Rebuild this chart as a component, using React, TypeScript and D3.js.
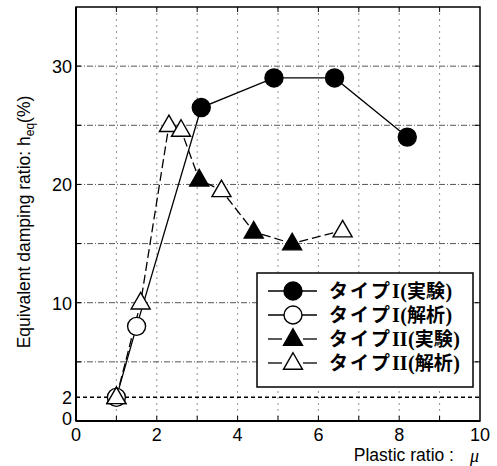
import React from "react";
import * as d3 from "d3";

// Type I: experiment (filled circles) and analysis (open circles)
const typeIExpMu = [3.1, 4.9, 6.4, 8.2];
const typeIExpH = [26.5, 29, 29, 24];
const typeIAnaMu = [1.0, 1.5];
const typeIAnaH = [2, 8];

// Type II: experiment (filled triangles) and analysis (open triangles)
const typeIIExpMu = [3.05, 4.4, 5.35];
const typeIIExpH = [20.4, 16, 15];
const typeIIAnaMu = [1.0, 1.6, 2.3, 2.6, 3.6, 6.6];
const typeIIAnaH = [2, 10, 25, 24.6, 19.5, 16.1];

const xTickLabels = [0, 2, 4, 6, 8, 10];
const yTickLabels = [0, 2, 10, 20, 30];
const yGrid = [5, 10, 15, 20, 25, 30];
const xGrid = [1, 2, 3, 4, 5, 6, 7, 8, 9];
const baseDamping = 2;

const legendItems = [
  { roman: "I", tail: "実験", marker: "circle", filled: true, dashed: false },
  { roman: "I", tail: "解析", marker: "circle", filled: false, dashed: false },
  { roman: "II", tail: "実験", marker: "triangle", filled: true, dashed: true },
  { roman: "II", tail: "解析", marker: "triangle", filled: false, dashed: true },
];

const W = 497;
const H = 466;
const L = 76;
const R = 480;
const T = 7;
const B = 421;

const x = d3.scaleLinear().domain([0, 10]).range([L, R]);
const y = d3.scaleLinear().domain([0, 35]).range([B, T]);

type P = [number, number];
const zip = (a: number[], b: number[]): P[] => a.map((v, i) => [v, b[i]]);

const typeIAll = [...zip(typeIAnaMu, typeIAnaH), ...zip(typeIExpMu, typeIExpH)].sort((a, b) => a[0] - b[0]);
const typeIIAll = [...zip(typeIIAnaMu, typeIIAnaH), ...zip(typeIIExpMu, typeIIExpH)].sort((a, b) => a[0] - b[0]);

const line = d3.line<P>().x((d) => x(d[0])).y((d) => y(d[1]));

const triPath = (cx: number, cy: number, s: number) => {
  const h = s * 0.87;
  return `M${cx},${cy - h * 0.62}L${cx + s / 2},${cy + h * 0.38}L${cx - s / 2},${cy + h * 0.38}Z`;
};

function Marker({ kind, filled, cx, cy }: { kind: string; filled: boolean; cx: number; cy: number }) {
  const fill = filled ? "#000" : "#fff";
  if (kind === "circle") {
    return <circle cx={cx} cy={cy} r={9} fill={fill} stroke="#000" strokeWidth={1.4} />;
  }
  return <path d={triPath(cx, cy, 19)} fill={fill} stroke="#000" strokeWidth={1.4} />;
}

export default function App() {
  const jp = "'Noto Sans CJK JP', sans-serif";
  const sans = "'Liberation Sans', Arial, sans-serif";
  const serif = "'Liberation Serif', 'Times New Roman', serif";
  return (
    <svg width={W} height={H} style={{ position: "fixed", left: 0, top: 0, background: "#fff" }}>
      {/* grid */}
      {xGrid.map((v) => (
        <line key={"xg" + v} x1={x(v)} x2={x(v)} y1={T} y2={B} stroke="#777" strokeWidth={0.8} strokeDasharray="2,4" />
      ))}
      {yGrid.map((v) => (
        <line key={"yg" + v} x1={L} x2={R} y1={y(v)} y2={y(v)} stroke="#444" strokeWidth={0.9} strokeDasharray="6,2,1,2" />
      ))}
      {/* reference damping */}
      <line x1={L} x2={R} y1={y(baseDamping)} y2={y(baseDamping)} stroke="#000" strokeWidth={1.5} strokeDasharray="4,3" />

      {/* tick marks */}
      {xGrid.map((v) => (
        <g key={"xt" + v}>
          <line x1={x(v)} x2={x(v)} y1={T} y2={T + 5} stroke="#000" strokeWidth={1} />
          <line x1={x(v)} x2={x(v)} y1={B} y2={B - 5} stroke="#000" strokeWidth={1} />
        </g>
      ))}
      {yGrid.map((v) => (
        <g key={"yt" + v}>
          <line x1={R} x2={R - 5} y1={y(v)} y2={y(v)} stroke="#000" strokeWidth={1} />
          <line x1={L} x2={L + 5} y1={y(v)} y2={y(v)} stroke="#000" strokeWidth={1} />
        </g>
      ))}

      {/* frame */}
      <rect x={L} y={T} width={R - L} height={B - T} fill="none" stroke="#000" strokeWidth={1.5} />
      <line x1={L} x2={L} y1={T} y2={B} stroke="#000" strokeWidth={2} />
      <line x1={L} x2={R} y1={B} y2={B} stroke="#000" strokeWidth={2} />

      {/* series lines */}
      <path d={line(typeIAll) || ""} fill="none" stroke="#000" strokeWidth={1.3} />
      <path d={line(typeIIAll) || ""} fill="none" stroke="#000" strokeWidth={1.3} strokeDasharray="9,4" />

      {/* markers */}
      {zip(typeIIAnaMu, typeIIAnaH).map((p, i) => (
        <Marker key={"ta" + i} kind="triangle" filled={false} cx={x(p[0])} cy={y(p[1])} />
      ))}
      {zip(typeIIExpMu, typeIIExpH).map((p, i) => (
        <Marker key={"te" + i} kind="triangle" filled cx={x(p[0])} cy={y(p[1])} />
      ))}
      {zip(typeIAnaMu, typeIAnaH).map((p, i) => (
        <Marker key={"ca" + i} kind="circle" filled={false} cx={x(p[0])} cy={y(p[1])} />
      ))}
      {zip(typeIExpMu, typeIExpH).map((p, i) => (
        <Marker key={"ce" + i} kind="circle" filled cx={x(p[0])} cy={y(p[1])} />
      ))}
      {/* open triangle at mu=1 drawn over the open circle */}
      <Marker kind="triangle" filled={false} cx={x(typeIIAnaMu[0])} cy={y(typeIIAnaH[0])} />

      {/* tick labels */}
      {xTickLabels.map((v) => (
        <text key={"xl" + v} x={x(v)} y={B + 20} textAnchor="middle" fontFamily={sans} fontSize={18}>
          {v}
        </text>
      ))}
      {yTickLabels.map((v) => (
        <text key={"yl" + v} x={L - 4} y={y(v) + (v === 0 ? 4 : 7)} textAnchor="end" fontFamily={sans} fontSize={18}>
          {v}
        </text>
      ))}

      {/* axis titles */}
      <text x={454} y={461} textAnchor="end" fontFamily={sans} fontSize={17.5}>
        Plastic ratio :
      </text>
      <text x={470} y={462} fontFamily={serif} fontStyle="italic" fontSize={18}>μ</text>
      <text transform={`translate(30,${222}) rotate(-90)`} textAnchor="middle" fontFamily={sans} fontSize={17.5}>
        Equivalent damping ratio: h
        <tspan fontSize={12} dy={4}>eq</tspan>
        <tspan dy={-4}>(%)</tspan>
      </text>

      {/* legend */}
      <rect x={257} y={273} width={216} height={114} fill="#fff" stroke="#000" strokeWidth={1.5} />
      {legendItems.map((it, i) => {
        const cy = 291 + i * 24;
        const base = cy + 7;
        const romanX = 392;
        const parenX = romanX + it.roman.length * 7.8 + 0.5;
        const tailX = parenX + 6.7;
        const closeX = tailX + 38.5;
        return (
          <g key={"lg" + i}>
            {it.dashed ? (
              <>
                <line x1={268} x2={282} y1={cy} y2={cy} stroke="#000" strokeWidth={1.3} />
                <line x1={303} x2={317} y1={cy} y2={cy} stroke="#000" strokeWidth={1.3} />
              </>
            ) : (
              <line x1={268} x2={317} y1={cy} y2={cy} stroke="#000" strokeWidth={1.3} />
            )}
            <Marker kind={it.marker} filled={it.filled} cx={293} cy={cy} />
            <text x={329} y={base} fontFamily={jp} fontWeight="bold" fontSize={19} letterSpacing={2}>
              タイプ
            </text>
            <text x={romanX} y={base} fontFamily={serif} fontWeight="bold" fontSize={20}>
              {it.roman}
            </text>
            <text x={parenX} y={base} fontFamily={serif} fontWeight="bold" fontSize={20}>
              (
            </text>
            <text x={tailX} y={base} fontFamily={jp} fontWeight="bold" fontSize={19}>
              {it.tail}
            </text>
            <text x={closeX} y={base} fontFamily={serif} fontWeight="bold" fontSize={20}>
              )
            </text>
          </g>
        );
      })}
    </svg>
  );
}
